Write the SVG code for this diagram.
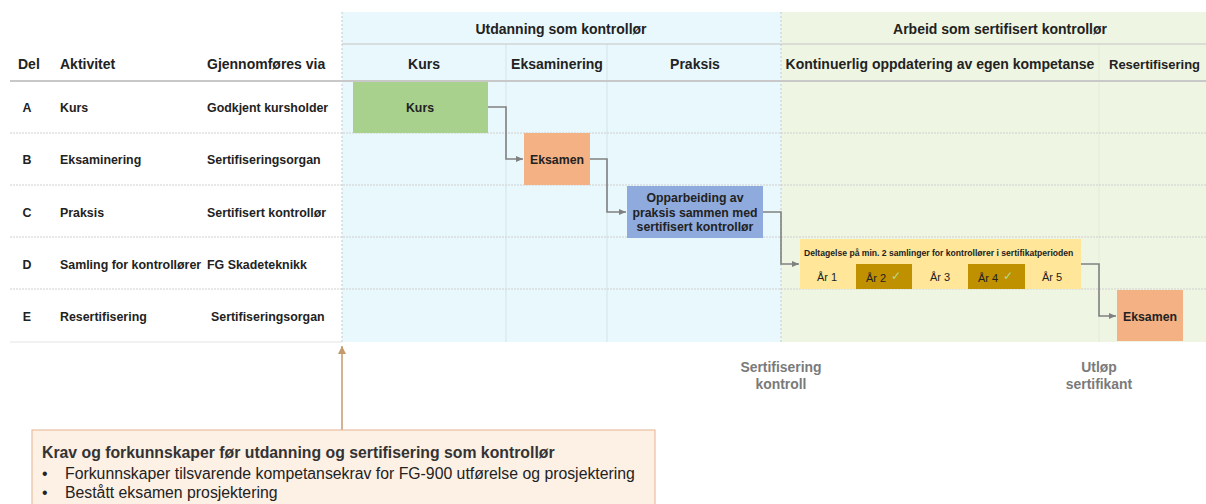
<svg xmlns="http://www.w3.org/2000/svg" width="1206" height="504" viewBox="0 0 1206 504">
<style>
text{font-family:"Liberation Sans",Arial,sans-serif;fill:#222}
.b{font-weight:bold;font-size:14px}
.h{font-weight:bold;font-size:14px;text-anchor:middle}
.t{font-weight:bold;font-size:12.4px}
.n{font-weight:bold;font-size:12.3px;text-anchor:middle}
.c{text-anchor:middle}
.row{stroke:#cfcfcf;stroke-width:1;stroke-dasharray:2 1}
.col{stroke:#d5e3e8;stroke-width:1}
.conn{fill:none;stroke:#808080;stroke-width:1.6}
.lbl{font-weight:bold;font-size:13.9px;fill:#7a7a7a;text-anchor:middle}
.yr{font-size:11px;text-anchor:middle}
.ck{font-size:12px;fill:#b5d98f;text-anchor:middle}
</style>
<defs>
<marker id="ar" markerWidth="8" markerHeight="8" refX="7" refY="4" orient="auto" markerUnits="userSpaceOnUse">
<path d="M0,1 L7,4 L0,7 Z" fill="#808080"/>
</marker>
<marker id="ao" markerWidth="10" markerHeight="10" refX="8" refY="4.5" orient="auto" markerUnits="userSpaceOnUse">
<path d="M0,0.5 L8,4.5 L0,8.5 Z" fill="#c49a6c"/>
</marker>
</defs>
<rect width="1206" height="504" fill="#ffffff"/>
<g id="background">
<rect x="342" y="12" width="439" height="330" fill="#e9f8fd"/>
<rect x="781" y="12" width="425" height="330" fill="#eef6e3"/>
<line x1="506" y1="44" x2="506" y2="342" class="col"/>
<line x1="607" y1="44" x2="607" y2="342" class="col"/>
<line x1="1099" y1="44" x2="1099" y2="342" stroke="#e2ecd6" stroke-width="1"/>
<line x1="342" y1="12" x2="342" y2="342" stroke="#c8c8c8" stroke-dasharray="2 2"/>
<line x1="781" y1="12" x2="781" y2="342" stroke="#c8c8c8" stroke-dasharray="2 2"/>
<line x1="342" y1="44" x2="1206" y2="44" stroke="#c4c4c4" stroke-width="1.2"/>
<line x1="10" y1="81" x2="1206" y2="81" stroke="#c8c8c8" stroke-width="2"/>
<line x1="10" y1="133" x2="1206" y2="133" class="row"/>
<line x1="10" y1="185" x2="1206" y2="185" class="row"/>
<line x1="10" y1="237" x2="1206" y2="237" class="row"/>
<line x1="10" y1="289" x2="1206" y2="289" class="row"/>
<line x1="10" y1="342" x2="342" y2="342" stroke="#e4e4e4"/>
</g>
<g id="headers">
<text x="561" y="34" class="h">Utdanning som kontrollør</text>
<text x="1000" y="34" class="h">Arbeid som sertifisert kontrollør</text>
<text x="424" y="69" class="h">Kurs</text>
<text x="557" y="69" class="h">Eksaminering</text>
<text x="695" y="69" class="h">Praksis</text>
<text x="940" y="69" class="h">Kontinuerlig oppdatering av egen kompetanse</text>
<text x="1109" y="69" font-weight="bold" font-size="13">Resertifisering</text>
<text x="18" y="69" class="b">Del</text>
<text x="60" y="69" class="b">Aktivitet</text>
<text x="207" y="69" class="b">Gjennomføres via</text>
</g>
<g id="table">
<text x="27" y="112" class="t c">A</text>
<text x="60" y="112" class="t">Kurs</text>
<text x="207" y="112" class="t">Godkjent kursholder</text>
<text x="27" y="164" class="t c">B</text>
<text x="60" y="164" class="t">Eksaminering</text>
<text x="207" y="164" class="t">Sertifiseringsorgan</text>
<text x="27" y="217" class="t c">C</text>
<text x="60" y="217" class="t">Praksis</text>
<text x="207" y="217" class="t">Sertifisert kontrollør</text>
<text x="27" y="269" class="t c">D</text>
<text x="60" y="269" class="t">Samling for kontrollører</text>
<text x="207" y="269" class="t">FG Skadeteknikk</text>
<text x="27" y="321" class="t c">E</text>
<text x="60" y="321" class="t">Resertifisering</text>
<text x="211" y="321" class="t">Sertifiseringsorgan</text>
</g>
<g id="node-kurs">
<rect x="353" y="82" width="135" height="51" fill="#a9d18e"/>
<text x="420" y="112" class="n">Kurs</text>
</g>
<g id="node-eksamen1">
<rect x="524" y="133" width="66" height="52" fill="#f4b183"/>
<text x="557" y="164" class="n">Eksamen</text>
</g>
<g id="node-praksis">
<rect x="627" y="186" width="136" height="52" fill="#8faadc"/>
<text class="n"><tspan x="695" y="202">Opparbeiding av</tspan><tspan x="695" y="216.5">praksis sammen med</tspan><tspan x="695" y="231">sertifisert kontrollør</tspan></text>
</g>
<g id="node-samling">
<rect x="800" y="239" width="281" height="50" fill="#ffe699"/>
<text x="804" y="256" font-weight="bold" font-size="8.6">Deltagelse på min. 2 samlinger for kontrollører i sertifikatperioden</text>
<rect x="856" y="264" width="56" height="25" fill="#bf9000"/>
<rect x="968" y="264" width="57" height="25" fill="#bf9000"/>
<text x="827" y="281" class="yr">År 1</text>
<text x="876" y="282" class="yr">År 2</text>
<text x="896" y="280" class="ck">✓</text>
<text x="940" y="281" class="yr">År 3</text>
<text x="988" y="282" class="yr">År 4</text>
<text x="1008" y="280" class="ck">✓</text>
<text x="1052" y="281" class="yr">År 5</text>
</g>
<g id="node-eksamen2">
<rect x="1117" y="290" width="66" height="51" fill="#f4b183"/>
<text x="1150" y="321" class="n">Eksamen</text>
</g>
<g id="connectors">
<path d="M488,107 H506 V159 H523" class="conn" marker-end="url(#ar)"/>
<path d="M590,159 H607 V212 H626" class="conn" marker-end="url(#ar)"/>
<path d="M763,212 H781 V264 H799" class="conn" marker-end="url(#ar)"/>
<path d="M1081,264 H1099 V316 H1116" class="conn" marker-end="url(#ar)"/>
<path d="M342,430 V346" fill="none" stroke="#c49a6c" stroke-width="1.5" marker-end="url(#ao)"/>
</g>
<g id="labels">
<text class="lbl"><tspan x="781" y="372">Sertifisering</tspan><tspan x="781" y="389">kontroll</tspan></text>
<text class="lbl"><tspan x="1099" y="372">Utløp</tspan><tspan x="1099" y="389">sertifikant</tspan></text>
</g>
<g id="node-krav">
<rect x="32" y="430" width="623" height="80" fill="#fdf0e5" stroke="#e6b48f" stroke-width="1"/>
<text x="42" y="458" font-size="15.8" font-weight="bold" style="fill:#333">Krav og forkunnskaper før utdanning og sertifisering som kontrollør</text>
<text x="42" y="479" font-size="15.8">•</text>
<text x="65" y="479" font-size="15.8">Forkunnskaper tilsvarende kompetansekrav for FG-900 utførelse og prosjektering</text>
<text x="42" y="498" font-size="15.8">•</text>
<text x="65" y="498" font-size="15.8">Bestått eksamen prosjektering</text>
</g>
</svg>
